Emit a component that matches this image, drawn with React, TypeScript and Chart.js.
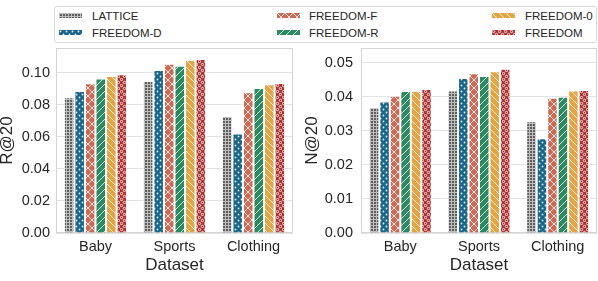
import React, { useEffect, useRef } from 'react';
import { Chart, registerables } from 'chart.js';

Chart.register(...registerables);

// ---------------- data ----------------
const categories = ['Baby', 'Sports', 'Clothing'];
const seriesNames = ['LATTICE', 'FREEDOM-D', 'FREEDOM-F', 'FREEDOM-R', 'FREEDOM-0', 'FREEDOM'];

// R@20 per series (Baby, Sports, Clothing)
const recallLattice = [0.0847, 0.0948, 0.0730];
const recallFreedomD = [0.0886, 0.1017, 0.0620];
const recallFreedomF = [0.0934, 0.1056, 0.0878];
const recallFreedomR = [0.0963, 0.1044, 0.0905];
const recallFreedom0 = [0.0979, 0.1079, 0.0928];
const recallFreedom = [0.0990, 0.1085, 0.0936];

// N@20 per series (Baby, Sports, Clothing)
const ndcgLattice = [0.0369, 0.0418, 0.0328];
const ndcgFreedomD = [0.0386, 0.0455, 0.0278];
const ndcgFreedomF = [0.0403, 0.0469, 0.0397];
const ndcgFreedomR = [0.0417, 0.0461, 0.0400];
const ndcgFreedom0 = [0.0417, 0.0475, 0.0418];
const ndcgFreedom = [0.0423, 0.0482, 0.0420];

const recallTicks = [0, 0.02, 0.04, 0.06, 0.08, 0.10];
const ndcgTicks = [0, 0.01, 0.02, 0.03, 0.04, 0.05];

const recallSeries = [recallLattice, recallFreedomD, recallFreedomF, recallFreedomR, recallFreedom0, recallFreedom];
const ndcgSeries = [ndcgLattice, ndcgFreedomD, ndcgFreedomF, ndcgFreedomR, ndcgFreedom0, ndcgFreedom];

// ---------------- styles ----------------
const seriesColors = ['#5e5e5e', '#19668a', '#cc6a55', '#2b8a62', '#e3a444', '#ad3131'];
const seriesHatches = ['grid', 'dots', 'cross', 'slash', 'backslash', 'rings'];
const FONT = "'Liberation Sans', Arial, sans-serif";
const TEXT = '#262626';

function makePattern(kind: string, color: string): CanvasPattern | string {
  const sizes: Record<string, number> = { grid: 3, dots: 6, cross: 8, slash: 7, backslash: 7, rings: 6 };
  const s = sizes[kind] || 6;
  const c = document.createElement('canvas');
  c.width = s;
  c.height = s;
  const g = c.getContext('2d');
  if (!g) return color;
  g.fillStyle = color;
  g.fillRect(0, 0, s, s);
  g.strokeStyle = 'rgba(255,255,255,0.8)';
  g.fillStyle = 'rgba(255,255,255,0.9)';
  g.lineWidth = 1;
  if (kind === 'grid') {
    g.fillStyle = 'rgba(255,255,255,0.6)';
    g.fillRect(0, 0, s, 1);
    g.fillRect(0, 1, 1, s - 1);
  } else if (kind === 'dots') {
    g.beginPath();
    g.arc(1.5, 1.5, 0.9, 0, Math.PI * 2);
    g.arc(4.5, 4.5, 0.9, 0, Math.PI * 2);
    g.fill();
  } else if (kind === 'cross' || kind === 'slash' || kind === 'backslash') {
    g.beginPath();
    for (let k = -1; k <= 1; k++) {
      if (kind === 'cross' || kind === 'slash') {
        g.moveTo(k * s, s);
        g.lineTo(k * s + s, 0);
      }
      if (kind === 'cross' || kind === 'backslash') {
        g.moveTo(k * s, 0);
        g.lineTo(k * s + s, s);
      }
    }
    g.stroke();
  } else if (kind === 'rings') {
    g.beginPath();
    g.arc(1.5, 1.5, 1.2, 0, Math.PI * 2);
    g.stroke();
    g.beginPath();
    g.arc(4.5, 4.5, 1.2, 0, Math.PI * 2);
    g.stroke();
  }
  const p = g.createPattern(c, 'repeat');
  return p || color;
}

const framePlugin = {
  id: 'frame',
  beforeDatasetsDraw(chart: any) {
    const { ctx, chartArea } = chart;
    ctx.save();
    ctx.strokeStyle = '#d4d4d4';
    ctx.lineWidth = 1;
    ctx.strokeRect(
      Math.round(chartArea.left) + 0.5,
      Math.round(chartArea.top) + 0.5,
      Math.round(chartArea.right - chartArea.left) - 1,
      Math.round(chartArea.bottom - chartArea.top) - 1
    );
    ctx.restore();
  },
};

type PanelProps = {
  left: number;
  width: number;
  series: number[][];
  ticks: number[];
  yMax: number;
  yTitle: string;
  padLeft: number;
  padRight: number;
  yWidth: number;
  tickPad: number;
  titlePad: number;
};

function Panel(props: PanelProps) {
  const ref = useRef<HTMLCanvasElement | null>(null);
  useEffect(() => {
    if (!ref.current) return;
    const step = props.ticks[1] - props.ticks[0];
    const chart = new Chart(ref.current, {
      type: 'bar',
      data: {
        labels: categories,
        datasets: seriesNames.map((name, i) => ({
          label: name,
          data: props.series[i],
          backgroundColor: makePattern(seriesHatches[i], seriesColors[i]) as any,
          borderColor: 'rgba(255,255,255,0.75)',
          borderWidth: 1,
          borderSkipped: 'start',
          categoryPercentage: 0.8,
          barPercentage: 1.0,
        })),
      },
      options: {
        animation: false,
        responsive: false,
        devicePixelRatio: 1,
        layout: { padding: { top: 48, right: props.padRight, left: props.padLeft, bottom: 0 } },
        plugins: { legend: { display: false }, tooltip: { enabled: false } },
        scales: {
          x: {
            grid: { display: false, drawTicks: false },
            border: { display: false },
            ticks: { color: TEXT, font: { family: FONT, size: 14.5 }, padding: 5 },
            title: {
              display: true,
              text: 'Dataset',
              color: TEXT,
              font: { family: FONT, size: 17 },
              padding: { top: 0, bottom: 5 },
            },
            afterFit: (scale: any) => {
              scale.height = 48;
            },
          },
          y: {
            min: 0,
            max: props.yMax,
            grid: { color: '#e2e2e2', lineWidth: 1, drawTicks: false },
            border: { display: false },
            ticks: {
              stepSize: step,
              includeBounds: false,
              color: TEXT,
              font: { family: FONT, size: 14.5 },
              padding: props.tickPad,
              callback: (v: any) => Number(v).toFixed(2),
            },
            title: {
              display: true,
              text: props.yTitle,
              color: TEXT,
              font: { family: FONT, size: 17, lineHeight: 0.9 },
              padding: { top: props.titlePad, bottom: 0 },
            },
            afterFit: (scale: any) => {
              scale.width = props.yWidth;
            },
          },
        },
      },
      plugins: [framePlugin],
    });
    return () => chart.destroy();
  }, []);
  return (
    <canvas
      ref={ref}
      width={props.width}
      height={281}
      style={{ position: 'absolute', left: props.left, top: 0, width: props.width, height: 281 }}
    />
  );
}

function Swatch(props: { index: number; left: number; top: number }) {
  const ref = useRef<HTMLCanvasElement | null>(null);
  useEffect(() => {
    const c = ref.current;
    if (!c) return;
    const g = c.getContext('2d');
    if (!g) return;
    g.fillStyle = makePattern(seriesHatches[props.index], seriesColors[props.index]) as any;
    g.fillRect(0, 0, c.width, c.height);
  }, []);
  return (
    <canvas
      ref={ref}
      width={23}
      height={5}
      style={{ position: 'absolute', left: props.left, top: props.top, width: 23, height: 5 }}
    />
  );
}

function Legend() {
  const colSwatch = [59, 277, 492];
  const colText = [92, 309, 525];
  const rowSwatch = [13, 30];
  const rowText = [8.6, 25.6];
  return (
    <div>
      <div
        style={{
          position: 'absolute',
          left: 54,
          top: 6,
          width: 541,
          height: 35,
          border: '1px solid #d9d9d9',
          borderRadius: 3,
          background: '#fff',
        }}
      />
      {seriesNames.map((name, i) => {
        const col = Math.floor(i / 2);
        const row = i % 2;
        return (
          <React.Fragment key={name}>
            <Swatch index={i} left={colSwatch[col]} top={rowSwatch[row]} />
            <div
              style={{
                position: 'absolute',
                left: colText[col],
                top: rowText[row],
                fontFamily: FONT,
                fontSize: 11.5,
                lineHeight: '14px',
                color: TEXT,
                whiteSpace: 'nowrap',
              }}
            >
              {name}
            </div>
          </React.Fragment>
        );
      })}
    </div>
  );
}

export default function App() {
  return (
    <div style={{ position: 'absolute', left: 0, top: 0, width: 598, height: 281, background: '#fff', overflow: 'hidden' }}>
      <Panel
        left={0}
        width={300}
        series={recallSeries}
        ticks={recallTicks}
        yMax={0.1154}
        yTitle="R@20"
        padLeft={0}
        padRight={7}
        yWidth={56}
        tickPad={6}
        titlePad={0}
      />
      <Panel
        left={298}
        width={300}
        series={ndcgSeries}
        ticks={ndcgTicks}
        yMax={0.0543}
        yTitle="N@20"
        padLeft={3}
        padRight={1}
        yWidth={60}
        tickPad={8}
        titlePad={4}
      />
      <Legend />
    </div>
  );
}
